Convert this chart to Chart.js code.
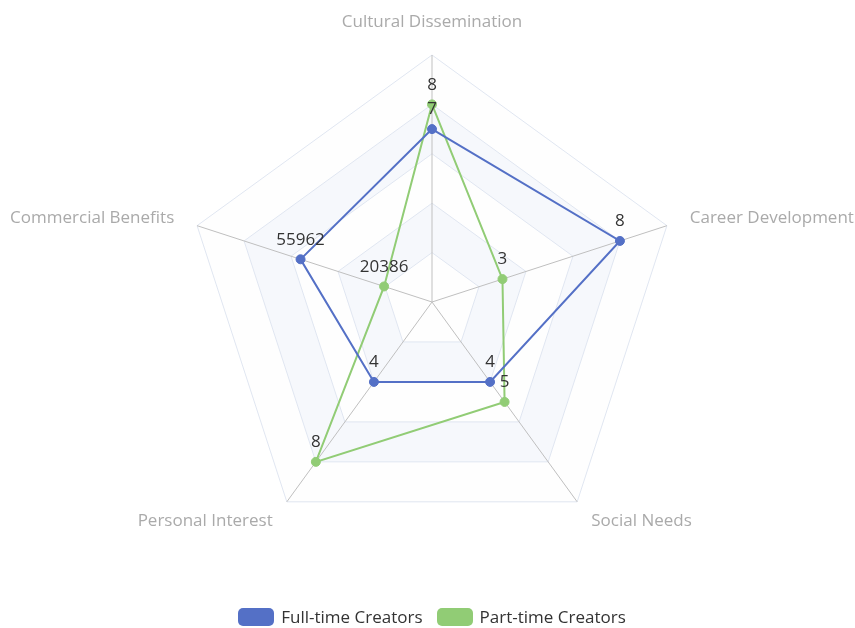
<!DOCTYPE html>
<html>
<head>
<meta charset="utf-8">
<script src="https://cdn.jsdelivr.net/npm/chart.js@4.4.1/dist/chart.umd.min.js"></script>
<style>
  body { margin: 0; background: #fff; font-family: 'Open Sans', sans-serif; }
  #wrap { position: relative; width: 855px; height: 628px; }
  #legend { position: absolute; left: 0; width: 864px; top: 608px; display: flex; justify-content: center; gap: 14px; font-size: 17px; color: #333; }
  .item { display: flex; align-items: center; gap: 7px; line-height: 18px; }
  .box { width: 36px; height: 18px; border-radius: 5px; }
</style>
</head>
<body>
<div id="wrap">
  <canvas id="radarChart" width="855" height="628"></canvas>
  <div id="legend"></div>
</div>
<script>
const indicators = ['Cultural Dissemination', 'Career Development', 'Social Needs', 'Personal Interest', 'Commercial Benefits'];
const indicatorMax = [10, 10, 10, 10, 100000];
const seriesNames = ['Full-time Creators', 'Part-time Creators'];
const fullTimeValues = [7, 8, 4, 4, 55962];
const partTimeValues = [8, 3, 5, 8, 20386];
const seriesColors = ['#5470c6', '#91cc75'];

// each axis has its own max, so the points are scaled to 0..10
const toScale = values => values.map((v, i) => v / indicatorMax[i] * 10);

// alternating bands between the grid rings
const splitAreaPlugin = {
  id: 'splitArea',
  beforeDraw(chart) {
    const scale = chart.scales.r;
    const ctx = chart.ctx;
    const colors = ['rgba(250,250,250,0.2)', 'rgba(210,219,238,0.2)'];
    for (let k = 0; k < 5; k++) {
      ctx.save();
      ctx.beginPath();
      [(k + 1) * 2, k * 2].forEach(value => {
        indicators.forEach((_, i) => {
          const p = scale.getPointPositionForValue(i, value);
          if (i === 0) ctx.moveTo(p.x, p.y); else ctx.lineTo(p.x, p.y);
        });
        ctx.closePath();
      });
      ctx.fillStyle = colors[k % 2];
      ctx.fill('evenodd');
      ctx.restore();
    }
  }
};

// indicator names and point values
const labelsPlugin = {
  id: 'radarLabels',
  afterDatasetsDraw(chart) {
    const scale = chart.scales.r;
    const ctx = chart.ctx;
    ctx.save();
    ctx.font = '17px "Open Sans", sans-serif';
    ctx.fillStyle = '#aaa';
    indicators.forEach((name, i) => {
      const angle = scale.getIndexAngle(i);
      const p = scale.getPointPosition(i, scale.drawingArea + 24);
      const s = Math.sin(angle), c = Math.cos(angle);
      ctx.textAlign = Math.abs(s) < 0.05 ? 'center' : (s > 0 ? 'left' : 'right');
      ctx.textBaseline = c > 0.9 ? 'bottom' : 'middle';
      ctx.fillText(name, p.x, p.y);
    });

    ctx.font = '17px "Open Sans", sans-serif';
    ctx.fillStyle = '#333';
    ctx.textAlign = 'center';
    ctx.textBaseline = 'bottom';
    chart.data.datasets.forEach((ds, d) => {
      chart.getDatasetMeta(d).data.forEach((pt, i) => {
        ctx.fillText(String(ds.rawValues[i]), pt.x, pt.y - 11);
      });
    });
    ctx.restore();
  }
};

const datasets = [fullTimeValues, partTimeValues].map((values, d) => ({
  label: seriesNames[d],
  data: toScale(values),
  rawValues: values,
  borderColor: seriesColors[d],
  backgroundColor: seriesColors[d],
  pointBackgroundColor: seriesColors[d],
  pointBorderColor: seriesColors[d],
  borderWidth: 2,
  pointRadius: 4.5,
  pointBorderWidth: 1,
  fill: false
}));

new Chart(document.getElementById('radarChart'), {
  type: 'radar',
  data: { labels: indicators, datasets },
  options: {
    responsive: false,
    animation: false,
    layout: { padding: { top: 55, left: 9, right: 0, bottom: 79 } },
    plugins: { legend: { display: false }, tooltip: { enabled: false } },
    elements: { line: { tension: 0 } },
    scales: {
      r: {
        min: 0,
        max: 10,
        ticks: { display: false, stepSize: 2 },
        grid: { color: '#e0e6f1', lineWidth: 1 },
        angleLines: { color: '#bfbfbf', lineWidth: 1 },
        pointLabels: { display: false }
      }
    }
  },
  plugins: [splitAreaPlugin, labelsPlugin]
});

// legend
const legend = document.getElementById('legend');
seriesNames.forEach((name, d) => {
  const item = document.createElement('div');
  item.className = 'item';
  const box = document.createElement('span');
  box.className = 'box';
  box.style.background = seriesColors[d];
  const text = document.createElement('span');
  text.textContent = name;
  item.appendChild(box);
  item.appendChild(text);
  legend.appendChild(item);
});
</script>
</body>
</html>
